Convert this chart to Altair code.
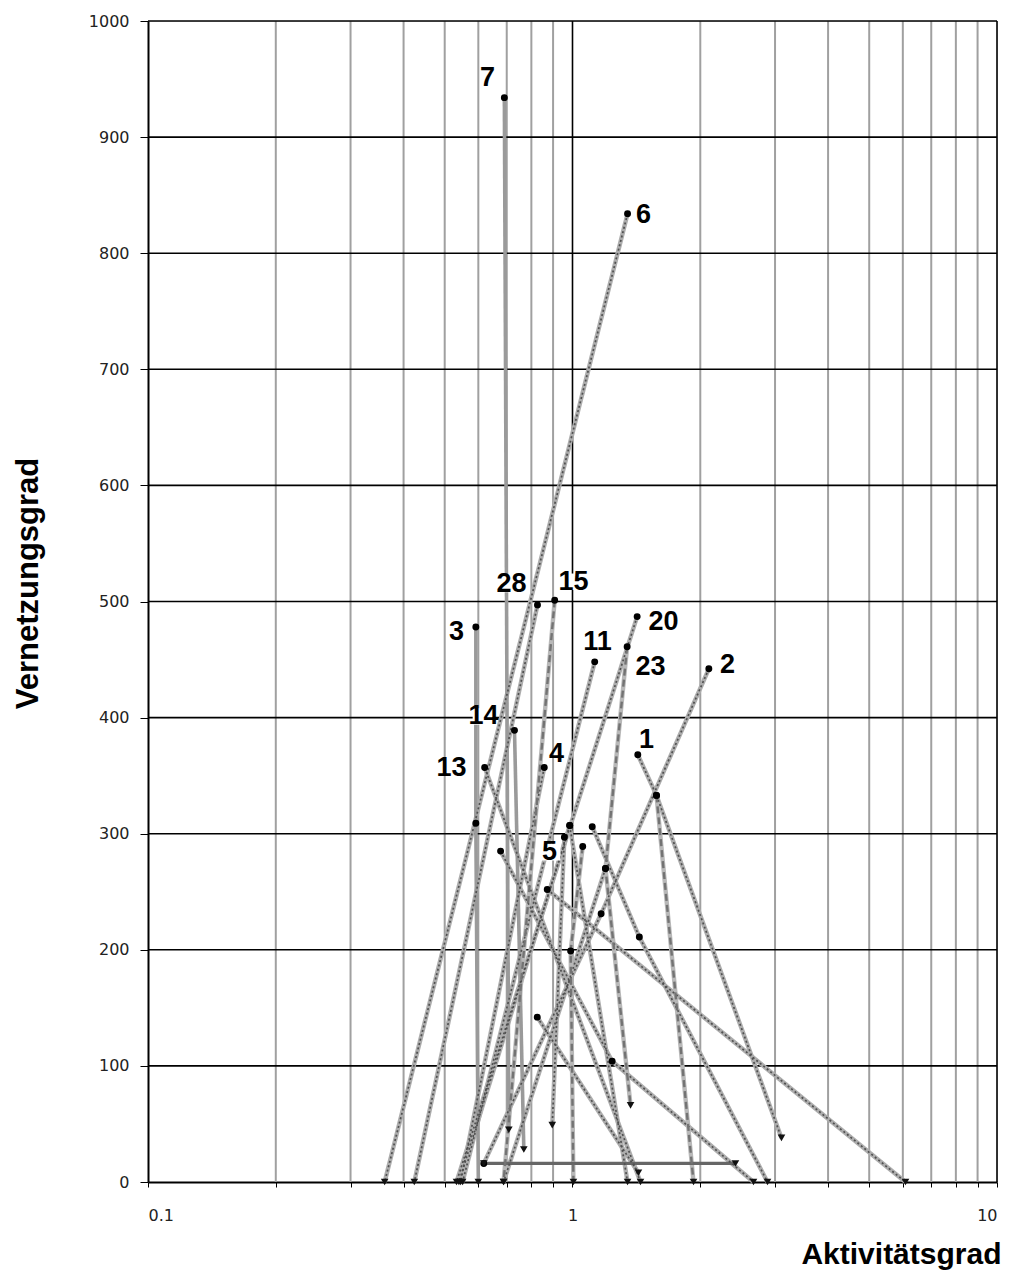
import altair as alt
import pandas as pd

# ---------------- data ----------------
SERIES = ["1", "1m", "2", "h", "3", "4", "5", "6", "7", "11", "13", "14", "15",
          "20", "23", "28", "a", "b", "d", "e", "f", "j", "s", "u"]
SERIES_X = [
    [1.425, 1.577, 3.107],
    [1.577, 1.928],
    [2.095, 1.168, 0.618],
    [0.618, 2.42],
    [0.592, 0.592, 0.600],
    [0.858, 0.545],
    [0.957, 0.896],
    [1.348, 0.361],
    [0.691, 0.708],
    [1.128, 0.551],
    [0.621, 1.446],
    [0.730, 0.768],
    [0.908, 0.688],
    [1.42, 0.533],
    [1.345, 1.196, 1.37],
    [0.827, 0.424],
    [0.985, 0.54],
    [1.113, 1.437, 2.88],
    [1.057, 0.99, 1.005],
    [0.677, 1.24, 2.669],
    [0.872, 6.087],
    [0.826, 1.43],
    [0.985, 1.348],
    [1.196, 0.688],
]
SERIES_Y = [
    [368, 333, 38],
    [333, 0],
    [442, 231, 16],
    [16, 16],
    [478, 309, 0],
    [357, 0],
    [297, 49],
    [834, 0],
    [934, 45],
    [448, 0],
    [357, 0],
    [389, 28],
    [501, 0],
    [487, 0],
    [461, 270, 66],
    [497, 0],
    [307, 0],
    [306, 211, 0],
    [289, 199, 0],
    [285, 104, 0],
    [252, 0],
    [142, 8],
    [307, 0],
    [270, 0],
]

LABEL_TEXT = ["7", "6", "28", "15", "3", "11", "20", "23", "2", "1", "14", "13", "4", "5"]
LABEL_X = [0.631, 1.470, 0.718, 1.005, 0.533, 1.145, 1.638, 1.527, 2.318, 1.494, 0.617, 0.519, 0.917, 0.883]
LABEL_Y = [951, 833, 515, 517, 474, 465, 482, 444, 445, 381, 401, 357, 369, 284]
LABEL_BOXED = ["28", "15", "14", "5"]

X_MAJOR = [0.1, 1, 10]
X_MINOR = [0.2, 0.3, 0.4, 0.5, 0.6, 0.7, 0.8, 0.9, 2, 3, 4, 5, 6, 7, 8, 9]
Y_TICKS = [0, 100, 200, 300, 400, 500, 600, 700, 800, 900, 1000]

# line styles (not data)
DASHED = {"15", "23", "d", "1m"}
SOLID = {"3", "7", "14"}
DARK = {"h"}

rows = []
for sid, xs, ys in zip(SERIES, SERIES_X, SERIES_Y):
    if sid in DARK:
        style = "dark"
    elif sid in SOLID:
        style = "solid"
    elif sid in DASHED:
        style = "dashed"
    else:
        style = "dotted"
    n = len(xs)
    for i, (x, y) in enumerate(zip(xs, ys)):
        rows.append({"series": sid, "order": i, "x": x, "y": y, "style": style,
                     "last": i == n - 1})
lines = pd.DataFrame(rows)
labels = pd.DataFrame({"text": LABEL_TEXT, "x": LABEL_X, "y": LABEL_Y})
labels["boxed"] = labels["text"].isin(LABEL_BOXED)
minor = pd.DataFrame({"x": X_MINOR})
hgrid = pd.DataFrame({"y": Y_TICKS[1:]})
vmajor = pd.DataFrame({"x": [1, 10]})

W, H = 849, 1161
xscale = alt.Scale(type="log", domain=[0.1, 10], nice=False)
yscale = alt.Scale(domain=[0, 1000], nice=False)

x_axis = alt.Axis(
    values=X_MAJOR + X_MINOR,
    labelExpr="(datum.value == 0.1 || datum.value == 1 || datum.value == 10) ? format(datum.value, '~g') : ''",
    grid=False, tickSize=5, tickColor="black", domainColor="black", domainWidth=2,
    labelFont="DejaVu Sans", labelFontSize=16, labelColor="#222", labelPadding=20,
    title="Aktivitätsgrad", titleFont="Liberation Sans", titleFontSize=30,
    titleFontWeight="bold", titleColor="black", titleAlign="right",
    titleBaseline="alphabetic", titleX=853, titleY=81, titleAnchor="end",
)
y_axis = alt.Axis(
    values=Y_TICKS, format="d", grid=False, tickSize=8, tickColor="black",
    domainColor="black", domainWidth=2, labelFont="DejaVu Sans", labelFontSize=16,
    labelColor="#222", labelPadding=11,
    title="Vernetzungsgrad", titleFont="Liberation Sans", titleFontSize=31,
    titleFontWeight="bold", titleColor="black", titleAngle=270, titleAlign="center",
    titleBaseline="middle", titleX=-120, titleY=562,
)

minor_grid = alt.Chart(minor).mark_rule(color="#a0a0a0", strokeWidth=2).encode(
    x=alt.X("x:Q", scale=xscale, axis=x_axis),
    y=alt.Y(datum=0, scale=yscale, axis=y_axis),
    y2=alt.datum(1000),
)
major_v = alt.Chart(vmajor).mark_rule(color="black", strokeWidth=1.6).encode(
    x="x:Q", y=alt.datum(0), y2=alt.datum(1000)
)
h_grid = alt.Chart(hgrid).mark_rule(color="black", strokeWidth=1.6).encode(
    y="y:Q", x=alt.datum(0.1), x2=alt.datum(10)
)

def line_layer(style, color, width, dash=None, opacity=1):
    kw = dict(color=color, strokeWidth=width, opacity=opacity)
    if dash:
        kw["strokeDash"] = dash
    return alt.Chart(lines).transform_filter(
        alt.datum.style == style
    ).mark_line(**kw).encode(
        x="x:Q", y="y:Q", detail="series:N", order="order:Q"
    )

dotted_base = line_layer("dotted", "#adadad", 4.4)
dotted_top = line_layer("dotted", "#505050", 1.7, [2, 2.5])
dashed_base = line_layer("dashed", "#b8b8b8", 4.4)
dashed_top = line_layer("dashed", "#737373", 2.4, [7, 4])
solid_l = line_layer("solid", "#9a9a9a", 3.6)
dark_l = line_layer("dark", "#666666", 3.2)

dots = alt.Chart(lines).transform_filter("!datum.last").mark_point(
    shape="circle", filled=True, color="black", size=48, opacity=1
).encode(x="x:Q", y="y:Q")
tris = alt.Chart(lines).transform_filter("datum.last").mark_point(
    shape="triangle-down", filled=True, color="#111", size=58, opacity=1
).encode(x="x:Q", y="y:Q")

label_bg = alt.Chart(labels).transform_filter("datum.boxed").mark_point(
    shape="M-1.25,-0.95L1.25,-0.95L1.25,0.95L-1.25,0.95Z", filled=True,
    color="white", size=300, opacity=1
).encode(x="x:Q", y="y:Q")
label_text = alt.Chart(labels).mark_text(
    font="Liberation Sans", fontSize=27, fontWeight="bold", color="black",
    align="center", baseline="middle"
).encode(x="x:Q", y="y:Q", text="text:N")

chart = alt.layer(
    minor_grid, major_v, h_grid,
    dotted_base, dashed_base, solid_l, dark_l, dotted_top, dashed_top,
    dots, tris, label_bg, label_text,
).properties(
    width=W, height=H,
    autosize=alt.AutoSizeParams(type="none"),
    padding={"left": 140, "top": 13, "right": 8, "bottom": 90},
).configure_view(stroke=None).configure(background="white")

chart.save("out.html", embed_options={"renderer": "svg", "actions": False})
